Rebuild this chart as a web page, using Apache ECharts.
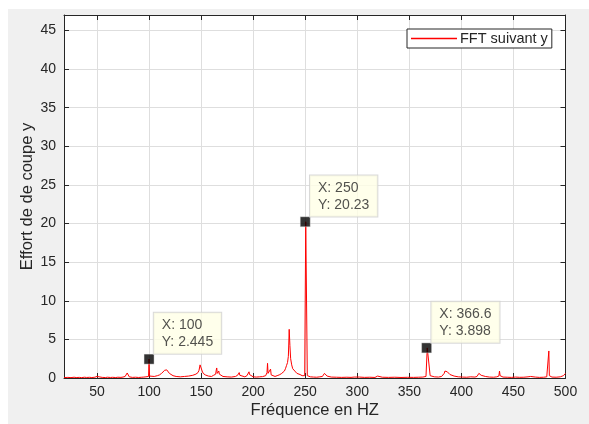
<!DOCTYPE html>
<html>
<head>
<meta charset="utf-8">
<script src="https://cdn.jsdelivr.net/npm/echarts@6/dist/echarts.min.js"></script>
<style>html,body{margin:0;padding:0;background:#f0f0f0;}#c{width:589px;height:424px;}</style>
</head>
<body>
<div id="c"></div>
<script>
// Spectrum samples (frequency in Hz, amplitude)
const freq = [18.3, 22, 25, 28, 30, 33, 35, 38, 40, 43, 45, 48, 50, 51, 52, 55, 58, 60, 63, 65, 68, 70, 73, 75, 77, 78.5, 79, 79.5, 81, 84, 87, 90, 93, 95, 97, 99.5, 100, 100.5, 102, 105, 108, 110, 112, 113.5, 115, 116, 117, 118, 119.5, 121, 123, 126, 130, 134, 138, 142, 145, 147, 148, 149, 150, 151, 152, 154, 157, 160, 162, 164, 164.5, 165, 165.5, 166.5, 167, 167.5, 168.5, 171, 175, 179, 183, 185, 186, 186.6, 187.2, 189, 192, 194, 195.5, 196, 196.5, 197.5, 200, 203, 206, 209, 212, 213.3, 213.8, 214.3, 215.5, 216.2, 216.7, 217.3, 219, 221, 223, 225, 227, 228.5, 230, 231, 232, 233, 233.8, 234.2, 234.6, 235.3, 236, 237, 238, 240, 242, 245, 247, 249.5, 250, 250.5, 252, 255, 258, 261, 264, 266.5, 267.6, 268.5, 271, 275, 280, 285, 290, 294, 297, 297.6, 298.2, 302, 307, 312, 317, 318, 318.6, 319.5, 324, 330, 336, 342, 348, 354, 359, 363, 366, 366.6, 367.2, 370, 374, 378, 381, 382.5, 383.5, 384.2, 385, 386.5, 389, 393, 397, 401, 405, 409, 413, 415, 415.8, 416.8, 419, 423, 427, 431, 434, 436, 436.6, 437.2, 440, 444, 448, 452, 456, 460, 464, 466.5, 467.2, 468, 471, 475, 479, 482, 483.5, 484, 484.5, 487, 491, 495, 498, 499.5, 500];
const amp = [0.05, 0.08, 0.05, 0.1, 0.06, 0.08, 0.05, 0.1, 0.07, 0.09, 0.06, 0.1, 0.2, 0.35, 0.15, 0.08, 0.06, 0.1, 0.07, 0.09, 0.06, 0.1, 0.08, 0.12, 0.2, 0.45, 0.65, 0.4, 0.15, 0.08, 0.1, 0.07, 0.1, 0.12, 0.15, 0.2, 2.445, 0.25, 0.15, 0.2, 0.3, 0.4, 0.6, 0.8, 1.0, 1.2, 1.05, 0.8, 0.6, 0.4, 0.3, 0.2, 0.15, 0.2, 0.25, 0.35, 0.5, 0.7, 1.0, 1.7, 1.3, 0.9, 0.6, 0.4, 0.25, 0.2, 0.35, 0.5, 1.0, 1.3, 0.6, 0.4, 0.9, 0.5, 0.3, 0.2, 0.15, 0.12, 0.2, 0.35, 0.5, 0.7, 0.35, 0.2, 0.15, 0.3, 0.5, 0.8, 0.45, 0.3, 0.15, 0.12, 0.15, 0.18, 0.3, 0.7, 1.9, 0.6, 0.35, 0.5, 1.15, 0.4, 0.25, 0.2, 0.3, 0.4, 0.55, 0.7, 0.9, 1.2, 1.6, 2.0, 2.8, 4.4, 6.3, 4.2, 2.5, 1.7, 1.2, 0.9, 0.6, 0.45, 0.3, 0.3, 0.35, 20.23, 0.3, 0.15, 0.12, 0.1, 0.15, 0.2, 0.3, 0.6, 0.25, 0.12, 0.1, 0.08, 0.1, 0.08, 0.12, 0.15, 0.35, 0.12, 0.08, 0.1, 0.07, 0.1, 0.12, 0.25, 0.1, 0.08, 0.1, 0.07, 0.09, 0.08, 0.1, 0.12, 0.2, 0.3, 3.898, 0.3, 0.15, 0.12, 0.2, 0.35, 0.6, 0.9, 1.15, 0.8, 0.45, 0.25, 0.15, 0.12, 0.1, 0.15, 0.12, 0.2, 0.35, 0.6, 0.35, 0.2, 0.12, 0.1, 0.15, 0.25, 0.9, 0.3, 0.12, 0.1, 0.08, 0.12, 0.09, 0.1, 0.15, 0.2, 0.45, 0.2, 0.12, 0.08, 0.1, 0.15, 0.3, 3.5, 0.3, 0.12, 0.1, 0.15, 0.3, 0.45, 0.6];
// Data tips
const tipFreq = [100, 250, 366.6];
const tipAmp = [2.445, 20.23, 3.898];
const tipXText = ['100', '250', '366.6'];
const tipYText = ['2.445', '20.23', '3.898'];
// Axis ticks
const xTicks = [50, 100, 150, 200, 250, 300, 350, 400, 450, 500];
const yTickStep = 5;

const lineData = freq.map((f, i) => [f, amp[i]]);
const tipData = tipFreq.map((f, i) => ({ value: [f, tipAmp[i]], tx: tipXText[i], ty: tipYText[i] }));

const font = 'Liberation Sans, Arial, sans-serif';
const dark = '#262626';
const chart = echarts.init(document.getElementById('c'), null, { renderer: 'canvas' });
const xBase = { type: 'value', min: 18.3, max: 500 };
const yBase = { type: 'value', min: 0, max: 47, interval: yTickStep };
chart.setOption({
  backgroundColor: '#f0f0f0',
  animation: false,
  textStyle: { fontFamily: font },
  graphic: [
    { type: 'rect', shape: { x: 0, y: 0, width: 589, height: 9 }, style: { fill: '#ffffff' }, silent: true },
    { type: 'rect', shape: { x: 0, y: 0, width: 8, height: 424 }, style: { fill: '#ffffff' }, silent: true }
  ],
  grid: { left: 64, right: 23.5, top: 15, bottom: 46, show: true, backgroundColor: '#ffffff', borderWidth: 0 },
  legend: {
    data: ['FFT suivant y'],
    left: 407, top: 29,
    icon: 'rect', itemWidth: 46, itemHeight: 1.5, itemGap: 3,
    backgroundColor: '#ffffff', borderColor: dark, borderWidth: 1, padding: [2, 4, 2, 4],
    textStyle: { fontFamily: font, fontSize: 14.5, color: dark, padding: [0, 0, 0, -2] }
  },
  xAxis: [
    Object.assign({}, xBase, {
      position: 'bottom',
      name: 'Fréquence en HZ', nameLocation: 'middle', nameGap: 24, nameMoveOverlap: false,
      nameTextStyle: { fontFamily: font, fontSize: 16.5, color: dark },
      axisLine: { show: true, onZero: false, lineStyle: { color: dark, width: 1 } },
      axisTick: { show: true, inside: true, length: 5, customValues: xTicks, lineStyle: { color: dark } },
      axisLabel: { customValues: xTicks, fontSize: 14, color: dark, margin: 7, fontFamily: font },
      splitLine: { show: true, lineStyle: { color: '#dedede', width: 1 } }
    }),
    Object.assign({}, xBase, {
      position: 'top',
      axisLine: { show: true, onZero: false, lineStyle: { color: dark, width: 1 } },
      axisTick: { show: true, inside: true, length: 5, customValues: xTicks, lineStyle: { color: dark } },
      axisLabel: { show: false },
      splitLine: { show: false }
    })
  ],
  yAxis: [
    Object.assign({}, yBase, {
      position: 'left',
      name: 'Effort de de coupe y', nameLocation: 'middle', nameGap: 28.5, nameRotate: 90, nameMoveOverlap: false,
      nameTextStyle: { fontFamily: font, fontSize: 16.5, color: dark },
      axisLine: { show: true, onZero: false, lineStyle: { color: dark, width: 1 } },
      axisTick: { show: true, inside: true, length: 5, lineStyle: { color: dark } },
      axisLabel: { showMaxLabel: false, fontSize: 14, color: dark, margin: 8, fontFamily: font },
      splitLine: { show: true, lineStyle: { color: '#dedede', width: 1 } }
    }),
    Object.assign({}, yBase, {
      position: 'right',
      axisLine: { show: true, onZero: false, lineStyle: { color: dark, width: 1 } },
      axisTick: { show: true, inside: true, length: 5, lineStyle: { color: dark } },
      axisLabel: { show: false },
      splitLine: { show: false }
    })
  ],
  series: [
    {
      name: 'FFT suivant y', type: 'line', data: lineData,
      xAxisIndex: 0, yAxisIndex: 0,
      showSymbol: false, symbol: 'none',
      lineStyle: { color: '#ff0000', width: 1 },
      itemStyle: { color: '#ff0000' },
      z: 3
    },
    {
      name: 'tips', type: 'scatter', data: tipData,
      xAxisIndex: 0, yAxisIndex: 0,
      symbol: 'rect', symbolSize: 10,
      itemStyle: { color: '#000000', borderColor: '#e8e8e8', borderWidth: 0.5 },
      label: {
        show: true, position: [10, -41],
        formatter: p => 'X: ' + p.data.tx + '\nY: ' + p.data.ty,
        backgroundColor: '#ffffe6', borderColor: '#cfcfcf', borderWidth: 1,
        padding: [4, 8, 3, 8], fontSize: 14, lineHeight: 17, color: dark, fontFamily: font
      },
      z: 5
    }
  ]
});
</script>
</body>
</html>
